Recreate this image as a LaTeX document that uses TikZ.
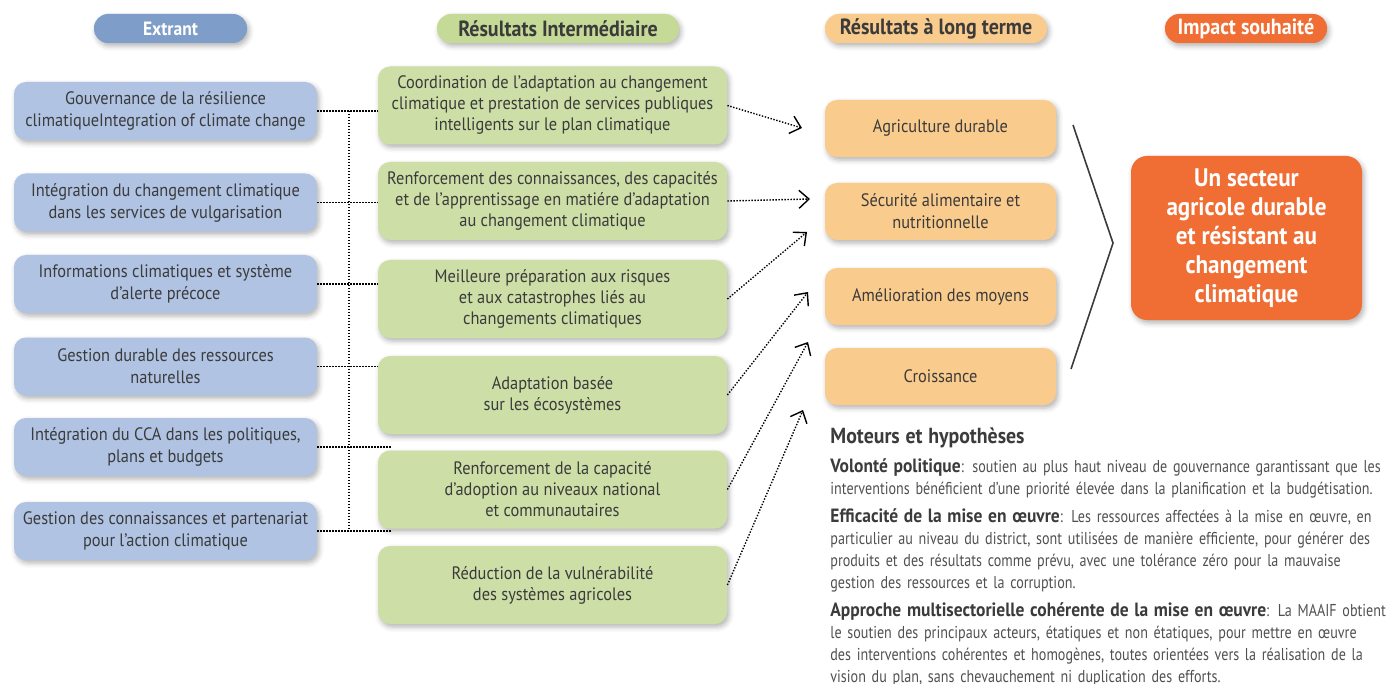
\documentclass[tikz,border=0pt]{standalone}
\usepackage{fontspec}
\setmainfont{PT Sans}[FakeStretch=0.91]
\newfontfamily\notefont{PT Sans}[FakeStretch=0.82, WordSpace=0.8]
\usepackage{tikz}
\usetikzlibrary{arrows.meta,shadows.blur}

\definecolor{extblue}{HTML}{7E9DC8}
\definecolor{boxblue}{HTML}{B0C3E3}
\definecolor{resgreen}{HTML}{C6DA97}
\definecolor{boxgreen}{HTML}{CDDEA7}
\definecolor{ltorange}{HTML}{F9CB8D}
\definecolor{impactor}{HTML}{F06D33}
\definecolor{txt}{HTML}{3B3B3B}
\definecolor{notetxt}{HTML}{505050}

\tikzset{
  shade/.style={blur shadow={shadow xshift=1pt, shadow yshift=-1.5pt, shadow blur radius=2.5pt, shadow opacity=30}},
  head/.style={shade, rounded corners=7pt, minimum height=14.5pt, inner sep=0pt, font=\bfseries\fontsize{11}{12}\selectfont},
  outbox/.style={shade, fill=boxblue, rounded corners=6pt, minimum width=151.5pt, minimum height=29pt, inner sep=0pt, align=center, text=txt, font=\fontsize{9}{11}\selectfont},
  resbox/.style={shade, fill=boxgreen, rounded corners=6pt, minimum width=174.5pt, minimum height=39pt, inner sep=0pt, align=center, text=txt, font=\fontsize{9}{10.5}\selectfont},
  ltbox/.style={shade, fill=ltorange, rounded corners=6pt, minimum width=115.5pt, minimum height=28.5pt, inner sep=0pt, align=center, text=txt, font=\fontsize{9}{11}\selectfont},
  dots/.style={line width=0.7pt, dash pattern=on 0.7pt off 0.8pt},
  dotarrow/.style={dots, -{Straight Barb[length=5pt, width=9pt, line width=0.7pt]}}
}

\newcommand{\lead}[1]{{\rmfamily\color{txt}\bfseries\fontsize{9.6}{11}\selectfont #1}}

\begin{document}
\begin{tikzpicture}[x=0.5pt, y=-0.5pt]
    \useasboundingbox (0,0) rectangle (1391,684);

    % Headers.
    \node[head, fill=extblue, text=white, minimum width=76.5pt, font=\bfseries\fontsize{9.6}{11}\selectfont] (hE) at (170.5,28.5) {Extrant};
    \node[head, fill=resgreen, text=txt, minimum width=121pt] (hR) at (558,28.5) {Résultats Intermédiaire};
    \node[head, fill=ltorange, text=txt, minimum width=111pt] (hL) at (936,28.5) {Résultats à long terme};
    \node[head, fill=impactor, text=white, minimum width=81pt] (hI) at (1246,28.5) {Impact souhaité};

    %Extrant
    \node[outbox] (E1) at (165.5,111) {Gouvernance de la résilience\\climatiqueIntegration of climate change};
    \node[outbox] (E2) at (165.5,202.5) {Intégration du changement climatique\\dans les services de vulgarisation};
    \node[outbox] (E3) at (165.5,284) {Informations climatiques et système\\d’alerte précoce};
    \node[outbox] (E4) at (165.5,366.5) {Gestion durable des ressources\\naturelles};
    \node[outbox] (E5) at (165.5,447) {Intégration du CCA dans les politiques,\\plans et budgets};
    \node[outbox] (E6) at (165.5,531) {Gestion des connaissances et partenariat\\pour l’action climatique};

    %Resultats intermediaires
    \node[resbox] (R1) at (552.5,105.5) {Coordination de l’adaptation au changement\\climatique et prestation de services publiques\\intelligents sur le plan climatique};
    \node[resbox] (R2) at (552.5,201) {Renforcement des connaissances, des capacités\\et de l’apprentissage en matiére d’adaptation\\au changement climatique};
    \node[resbox] (R3) at (552.5,299) {Meilleure préparation aux risques\\et aux catastrophes liés au\\changements climatiques};
    \node[resbox] (R4) at (552.5,395) {Adaptation basée\\sur les écosystèmes};
    \node[resbox] (R5) at (552.5,489.5) {Renforcement de la capacité\\d’adoption au niveaux national\\et communautaires};
    \node[resbox] (R6) at (552.5,585) {Réduction de la vulnérabilité\\des systèmes agricoles};

    %Resultats a long terme
    \node[ltbox] (L1) at (940.5,128.5) {Agriculture durable};
    \node[ltbox] (L2) at (940.5,211.5) {Sécurité alimentaire et\\nutritionnelle};
    \node[ltbox] (L3) at (940.5,296.5) {Amélioration des moyens};
    \node[ltbox] (L4) at (940.5,376.5) {Croissance};

    %Impact
    \node[shade, fill=impactor, rounded corners=8pt, minimum width=115.5pt, minimum height=82pt, inner sep=0pt, text=white, align=center, font=\bfseries\fontsize{12.7}{14.5}\selectfont] (I) at (1246.5,238) {Un secteur\\agricole durable\\et résistant au\\changement\\climatique};

    % Dotted links.
    \coordinate (bus) at (349,0);
    \coordinate (end5) at (392,447);
    \coordinate (end6) at (392,531);
    \draw[dots] (E1.east) -- (E1.east -| R1.west);
    \draw[dots] (E2.east) -- (E2.east -| R2.west);
    \draw[dots] (E3.east) -- (E3.east -| R3.west);
    \draw[dots] (E4.east) -- (E4.east -| R4.west);
    \draw[dots] (E5.east) -- (end5);
    \draw[dots] (E6.east) -- (end6);
    \draw[dots] (E1.east -| bus) -- (E6.east -| bus);

    % Arrows.
    \coordinate (t1) at (802,128);
    \coordinate (t2) at (810,199);
    \coordinate (t3) at (807,232);
    \coordinate (t4) at (808,292);
    \coordinate (t5) at (808,342);
    \coordinate (t6) at (803,410);
    \draw[dotarrow] (R1.east) -- (t1);
    \draw[dotarrow] (R2.east) -- (t2);
    \draw[dotarrow] (R3.east) -- (t3);
    \draw[dotarrow] (R4.east) -- (t4);
    \draw[dotarrow] (R5.east) -- (t5);
    \draw[dotarrow] (R6.east) -- (t6);

    % Chevron.
    \coordinate (c1) at (1073,125);
    \coordinate (c2) at (1113,243);
    \coordinate (c3) at (1071,369);
    \draw[line width=0.8pt, txt] (c1) -- (c2) -- (c3);

    % Moteurs et hypotheses.
    \node[anchor=north west, inner sep=0pt, text width=280pt, align=left, text=notetxt, font=\notefont\fontsize{8.6}{11}\selectfont] (note) at (830,427) {%
        {\rmfamily\color{txt}\bfseries\fontsize{10.9}{12}\selectfont Moteurs et hypothèses}\\[3.5pt]
        \lead{Volonté politique}: soutien au plus haut niveau de gouvernance garantissant que les\\
        interventions bénéficient d’une priorité élevée dans la planification et la budgétisation.\\[3pt]
        \lead{Efficacité de la mise en œuvre}: Les ressources affectées à la mise en œuvre, en\\
        particulier au niveau du district, sont utilisées de manière efficiente, pour générer des\\
        produits et des résultats comme prévu, avec une tolérance zéro pour la mauvaise\\
        gestion des ressources et la corruption.\\[3pt]
        \lead{Approche multisectorielle cohérente de la mise en œuvre}: La MAAIF obtient\\
        le soutien des principaux acteurs, étatiques et non étatiques, pour mettre en œuvre\\
        des interventions cohérentes et homogènes, toutes orientées vers la réalisation de la\\
        vision du plan, sans chevauchement ni duplication des efforts.};

\end{tikzpicture}
\end{document}
